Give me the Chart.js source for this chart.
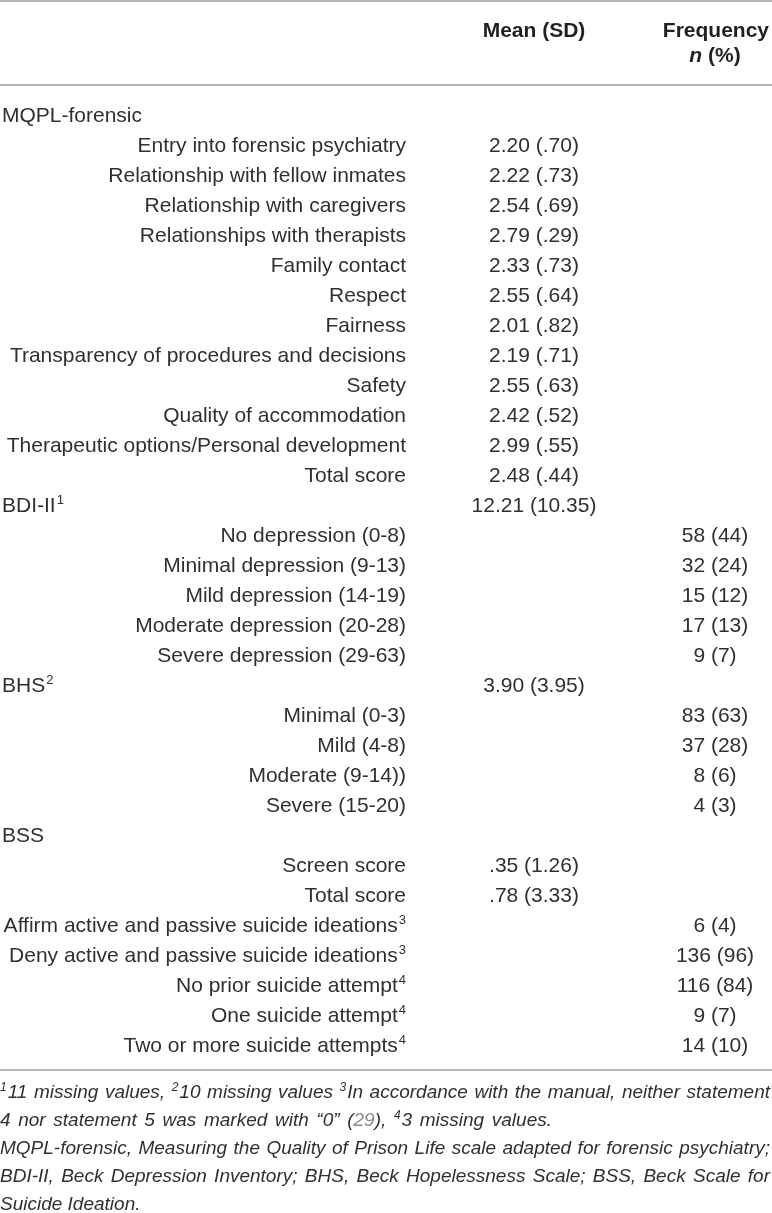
<!DOCTYPE html>
<html>
<head>
<meta charset="utf-8">
<script src="https://cdn.jsdelivr.net/npm/chart.js@4"></script>
<style>
  html, body { margin: 0; padding: 0; background: #ffffff; }
  #wrap { width: 772px; height: 1213px; }
  canvas { display: block; }
</style>
</head>
<body>
<div id="wrap"><canvas id="c" width="772" height="1213"></canvas></div>
<script>
// ---------------- data ----------------
const columnHeaders = ["Mean (SD)", "Frequency"];
const columnSubHeaders = ["", "n (%)"];

const rowLabels = [
  "MQPL-forensic",
  "Entry into forensic psychiatry",
  "Relationship with fellow inmates",
  "Relationship with caregivers",
  "Relationships with therapists",
  "Family contact",
  "Respect",
  "Fairness",
  "Transparency of procedures and decisions",
  "Safety",
  "Quality of accommodation",
  "Therapeutic options/Personal development",
  "Total score",
  "BDI-II",
  "No depression (0-8)",
  "Minimal depression (9-13)",
  "Mild depression (14-19)",
  "Moderate depression (20-28)",
  "Severe depression (29-63)",
  "BHS",
  "Minimal (0-3)",
  "Mild (4-8)",
  "Moderate (9-14))",
  "Severe (15-20)",
  "BSS",
  "Screen score",
  "Total score",
  "Affirm active and passive suicide ideations",
  "Deny active and passive suicide ideations",
  "No prior suicide attempt",
  "One suicide attempt",
  "Two or more suicide attempts"
];

// 0 = section heading (left), 1 = item (right aligned)
const rowLevel = [0,1,1,1,1,1,1,1,1,1,1,1,1,0,1,1,1,1,1,0,1,1,1,1,0,1,1,1,1,1,1,1];

const rowSuperscripts = ["","","","","","","","","","","","","","1","","","","","","2","","","","","","","","3","3","4","4","4"];

const meanSD = [
  "", "2.20 (.70)", "2.22 (.73)", "2.54 (.69)", "2.79 (.29)", "2.33 (.73)", "2.55 (.64)",
  "2.01 (.82)", "2.19 (.71)", "2.55 (.63)", "2.42 (.52)", "2.99 (.55)", "2.48 (.44)",
  "12.21 (10.35)", "", "", "", "", "",
  "3.90 (3.95)", "", "", "", "",
  "", ".35 (1.26)", ".78 (3.33)", "", "", "", "", ""
];

const frequency = [
  "", "", "", "", "", "", "", "", "", "", "", "", "",
  "", "58 (44)", "32 (24)", "15 (12)", "17 (13)", "9 (7)",
  "", "83 (63)", "37 (28)", "8 (6)", "4 (3)",
  "", "", "", "6 (4)", "136 (96)", "116 (84)", "9 (7)", "14 (10)"
];

// footnote lines: runs of [text, style]
const footnoteLines = [
  { width: 770, runs: [["1","sup"],["11 missing values, ",""],["2","sup"],["10 missing values ",""],["3","sup"],["In accordance with the manual, neither statement",""]] },
  { width: 552, runs: [["4 nor statement 5 was marked with \u201c0\u201d (",""],["29","link"],["), ",""],["4","sup"],["3 missing values.",""]] },
  { width: 770, runs: [["MQPL-forensic, Measuring the Quality of Prison Life scale adapted for forensic psychiatry;",""]] },
  { width: 770, runs: [["BDI-II, Beck Depression Inventory; BHS, Beck Hopelessness Scale; BSS, Beck Scale for",""]] },
  { width: 0, runs: [["Suicide Ideation.",""]] }
];

// ---------------- layout / style ----------------
const FONT = "'Liberation Sans', Arial, Helvetica, sans-serif";
const TEXT = "#303030";
const HEAD = "#231f20";
const RULE = "#9c9c9c";
const COL_LABEL_RIGHT = 406;
const COL_LABEL_LEFT = 2;
const COL_MEAN = 534;
const COL_FREQ = 715;

const tablePlugin = {
  id: 'tableText',
  afterDraw(chart) {
    const ctx = chart.ctx;
    const y = chart.scales.y;
    const x = chart.scales.x;
    const area = chart.chartArea;
    ctx.save();
    ctx.textBaseline = 'alphabetic';

    // rules
    ctx.strokeStyle = RULE;
    ctx.lineWidth = 1.6;
    const rules = [1, area.top - 12.5, area.bottom + 12.5];
    rules.forEach(r => {
      ctx.beginPath();
      ctx.moveTo(x.getPixelForValue(0), r);
      ctx.lineTo(x.getPixelForValue(772), r);
      ctx.stroke();
    });

    // headers
    ctx.fillStyle = HEAD;
    ctx.font = "bold 21px " + FONT;
    ctx.textAlign = 'center';
    ctx.fillText(columnHeaders[0], x.getPixelForValue(COL_MEAN), 37);
    ctx.textAlign = 'right';
    ctx.fillText(columnHeaders[1], x.getPixelForValue(769), 37);
    // "n (%)" with italic n
    ctx.textAlign = 'left';
    const sub = columnSubHeaders[1];
    const nPart = sub.slice(0, 1), rest = sub.slice(1);
    ctx.font = "italic bold 21px " + FONT;
    const wn = ctx.measureText(nPart).width;
    ctx.font = "bold 21px " + FONT;
    const wr = ctx.measureText(rest).width;
    let sx = x.getPixelForValue(COL_FREQ) - (wn + wr) / 2;
    ctx.font = "italic bold 21px " + FONT;
    ctx.fillText(nPart, sx, 62);
    ctx.font = "bold 21px " + FONT;
    ctx.fillText(rest, sx + wn, 62);

    // body rows
    rowLabels.forEach((lab, i) => {
      const base = y.getPixelForValue(i) + 9.5;
      const sup = rowSuperscripts[i];
      ctx.font = "21px " + FONT;
      const wl = ctx.measureText(lab).width;
      ctx.font = "13px " + FONT;
      const ws = sup ? ctx.measureText(sup).width + 1 : 0;
      let startX;
      if (rowLevel[i] === 0) startX = x.getPixelForValue(COL_LABEL_LEFT);
      else startX = x.getPixelForValue(COL_LABEL_RIGHT) - wl - ws;
      ctx.textAlign = 'left';
      ctx.fillStyle = TEXT;
      ctx.font = "21px " + FONT;
      ctx.fillText(lab, startX, base);
      if (sup) {
        ctx.font = "13px " + FONT;
        ctx.fillText(sup, startX + wl + 1, base - 8);
      }
      ctx.font = "21px " + FONT;
      ctx.textAlign = 'center';
      if (meanSD[i]) ctx.fillText(meanSD[i], x.getPixelForValue(COL_MEAN), base);
      if (frequency[i]) ctx.fillText(frequency[i], x.getPixelForValue(COL_FREQ), base);
    });

    // footnotes
    const fnSize = 19, supSize = 12;
    const fnTop = area.bottom + 40.5;
    const fnPitch = 28;
    ctx.textAlign = 'left';
    footnoteLines.forEach((line, li) => {
      const base = fnTop + li * fnPitch;
      const pieces = [];
      line.runs.forEach(([t, st]) => {
        if (st === 'sup') { pieces.push({t, st}); return; }
        const parts = t.split(/( )/);
        parts.forEach(p => { if (p !== '') pieces.push({t: p, st, space: p === ' '}); });
      });
      let natural = 0, spaces = 0;
      pieces.forEach(p => {
        ctx.font = (p.st === 'sup' ? "italic " + supSize + "px " : "italic " + fnSize + "px ") + FONT;
        p.w = ctx.measureText(p.t).width + (p.st === 'sup' ? 1 : 0);
        natural += p.w;
        if (p.space) spaces++;
      });
      const extra = (line.width && spaces) ? Math.max(0, (line.width - natural) / spaces) : 0;
      let cx = x.getPixelForValue(0);
      pieces.forEach(p => {
        if (p.st === 'sup') {
          ctx.font = "italic " + supSize + "px " + FONT;
          ctx.fillStyle = TEXT;
          ctx.fillText(p.t, cx, base - 7);
        } else {
          ctx.font = "italic " + fnSize + "px " + FONT;
          ctx.fillStyle = p.st === 'link' ? "#8a8a8a" : TEXT;
          if (!p.space) ctx.fillText(p.t, cx, base);
        }
        cx += p.w + (p.space ? extra : 0);
      });
    });
    ctx.restore();
  }
};

new Chart(document.getElementById('c').getContext('2d'), {
  type: 'bar',
  data: {
    labels: rowLabels,
    datasets: [{ data: rowLabels.map(() => null) }]
  },
  options: {
    indexAxis: 'y',
    responsive: false,
    animation: false,
    devicePixelRatio: 1,
    layout: { padding: { top: 97.5, bottom: 155.5, left: 0, right: 0 } },
    scales: {
      x: { type: 'linear', min: 0, max: 772, display: false },
      y: { type: 'category', display: false, offset: true }
    },
    plugins: { legend: { display: false }, tooltip: { enabled: false } }
  },
  plugins: [tablePlugin]
});
</script>
</body>
</html>
